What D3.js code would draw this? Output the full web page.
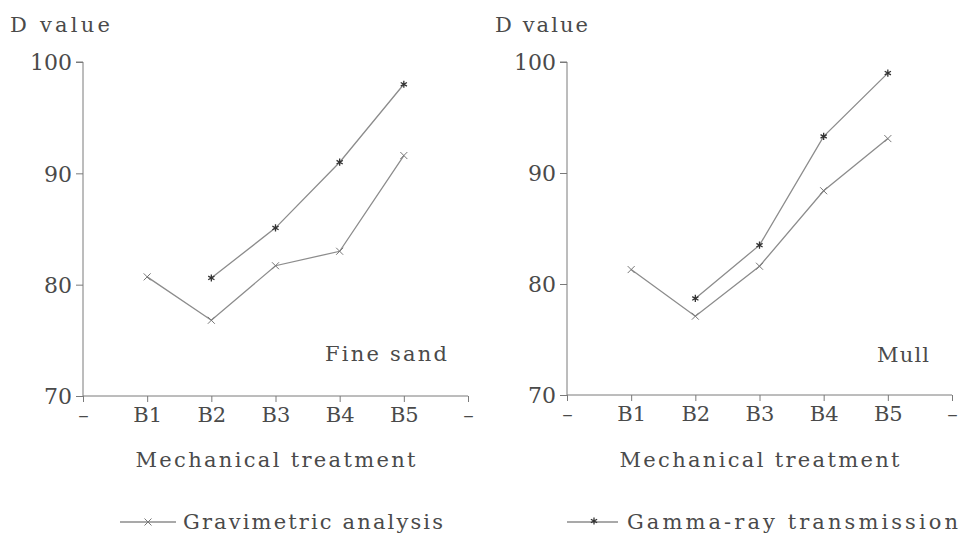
<!DOCTYPE html>
<html><head><meta charset="utf-8">
<script src="https://cdn.jsdelivr.net/npm/d3@7"></script>
<style>
html,body{margin:0;padding:0;background:#fff;}
svg text{font-family:"DejaVu Serif","Liberation Serif",serif;fill:#4a4a4a;}
</style></head>
<body>
<script>
const categories = ["B1","B2","B3","B4","B5"];
const tickLabels = ["–","B1","B2","B3","B4","B5","–"];
const yTicks = [70,80,90,100];
const fineGrav = [80.7,76.8,81.7,83.0,91.6];
const fineGamma = [null,80.6,85.1,91.0,98.0];
const mullGrav = [81.3,77.1,81.6,88.4,93.1];
const mullGamma = [null,78.7,83.5,93.3,99.0];
const panels = [
  {label:"Fine sand", grav:fineGrav, gamma:fineGamma, x0:83, x1:468, y0:396, y1:62, lx:447, ly:361, yTitle:"D value", tx:10, tw:100},
  {label:"Mull", grav:mullGrav, gamma:mullGamma, x0:567, x1:952, y0:395, y1:62, lx:929, ly:362, yTitle:"D value", tx:495, tw:93}
];
const W=962,H=534;
const svg=d3.select("body").append("svg").attr("width",W).attr("height",H);
const lineCol="#8c8c8c", axCol="#7a7a7a";

function fitText(sel,w){sel.attr("textLength",w).attr("lengthAdjust","spacing");}

function cross(g,x,y,col){
  const s=3.5;
  g.append("path").attr("d",`M${x-s},${y-s}L${x+s},${y+s}M${x-s},${y+s}L${x+s},${y-s}`)
   .attr("stroke",col).attr("stroke-width",1).attr("fill","none");
}
function star(g,x,y){
  g.append("path").attr("d",d3.symbol().type(d3.symbolAsterisk||d3.symbolStar).size(36)()).attr("transform",`translate(${x},${y})`)
   .attr("fill","#333").attr("stroke","#333").attr("stroke-width",1.3);
}

panels.forEach(p=>{
  const x=d3.scaleLinear().domain([0,6]).range([p.x0,p.x1]);
  const y=d3.scaleLinear().domain([70,100]).range([p.y0,p.y1]);
  const g=svg.append("g");
  const ya=g.append("g").attr("transform",`translate(${p.x0},0)`)
    .call(d3.axisLeft(y).tickValues(yTicks).tickSize(7).tickPadding(4));
  ya.select(".domain").attr("stroke",axCol).attr("d",`M-7,${p.y1}H0V${p.y0}`);
  ya.selectAll(".tick line").attr("stroke",axCol);
  ya.selectAll(".tick text").attr("font-size",22).attr("fill","#4a4a4a").attr("font-family","DejaVu Serif").attr("dy","0.36em");
  const xa=g.append("g").attr("transform",`translate(0,${p.y0})`)
    .call(d3.axisBottom(x).tickValues(d3.range(7)).tickFormat(i=>tickLabels[i]).tickSize(6).tickPadding(5));
  xa.select(".domain").attr("stroke",axCol).attr("d",`M${p.x0},0H${p.x1}`);
  xa.selectAll(".tick line").attr("stroke",axCol);
  xa.selectAll(".tick text").attr("font-size",21).attr("fill","#4a4a4a").attr("font-family","DejaVu Serif");
  const t=g.append("text").attr("x",p.tx).attr("y",32).attr("font-size",21).text(p.yTitle);
  fitText(t,p.tw);
  const xt=g.append("text").attr("x",x(3)).attr("y",467).attr("text-anchor","middle").attr("font-size",21).text("Mechanical treatment");
  fitText(xt,280);
  g.append("text").attr("x",p.lx).attr("y",p.ly).attr("text-anchor","end").attr("font-size",21).text(p.label)
    .call(s=>fitText(s,p.label==="Mull"?52:122));
  const line=d3.line().defined(d=>d.v!=null).x(d=>x(d.i+1)).y(d=>y(d.v));
  const gd=p.grav.map((v,i)=>({v,i})), md=p.gamma.map((v,i)=>({v,i}));
  g.append("path").datum(gd).attr("d",line).attr("fill","none").attr("stroke",lineCol).attr("stroke-width",1.3);
  g.append("path").datum(md).attr("d",line).attr("fill","none").attr("stroke",lineCol).attr("stroke-width",1.3);
  gd.forEach(d=>cross(g,x(d.i+1),y(d.v),"#777"));
  md.filter(d=>d.v!=null).forEach(d=>star(g,x(d.i+1),y(d.v)));
});

const lg=svg.append("g");
lg.append("line").attr("x1",120).attr("x2",176).attr("y1",522).attr("y2",522).attr("stroke",lineCol).attr("stroke-width",1.3);
cross(lg,148,522,"#777");
lg.append("text").attr("x",183).attr("y",529).attr("font-size",21).text("Gravimetric analysis").call(s=>fitText(s,260));
lg.append("line").attr("x1",567).attr("x2",618).attr("y1",522).attr("y2",522).attr("stroke",lineCol).attr("stroke-width",1.3);
star(lg,594,521);
lg.append("text").attr("x",627).attr("y",529).attr("font-size",21).text("Gamma-ray transmission").call(s=>fitText(s,331));
</script>
</body></html>
